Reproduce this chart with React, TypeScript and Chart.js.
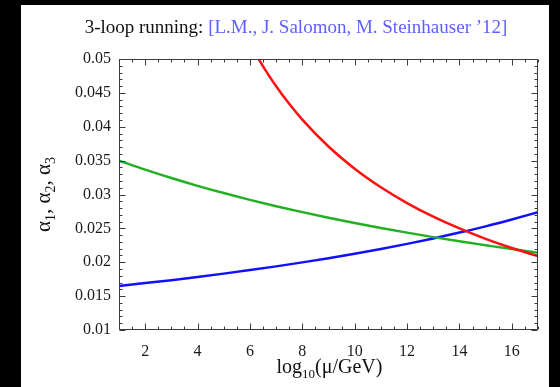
import React, { useEffect, useRef } from "react";
import { Chart, registerables } from "chart.js";

Chart.register(...registerables);

// log10(mu/GeV) sample points
const T = [1, 2, 3, 4, 5, 6, 7, 8, 9, 10, 11, 12, 13, 14, 15, 16, 17];
// alpha_1 (blue)
const ALPHA1 = [0.0165, 0.01692, 0.01736, 0.01783, 0.01832, 0.01884, 0.01939, 0.01998, 0.0206, 0.02125, 0.02196, 0.02271, 0.02351, 0.02438, 0.0253, 0.02631, 0.02739];
// alpha_2 (green)
const ALPHA2 = [0.035, 0.03367, 0.03243, 0.03128, 0.03021, 0.02921, 0.02827, 0.0274, 0.02657, 0.02579, 0.02506, 0.02437, 0.02371, 0.02309, 0.02251, 0.02194, 0.02141];
// alpha_3 (red)
const T3 = [6.33, 6.5, 7, 7.5, 8, 9, 10, 11, 12, 13, 14, 15, 16, 17];
const ALPHA3 = [0.05, 0.04892, 0.04598, 0.04338, 0.04105, 0.03708, 0.03381, 0.03107, 0.02874, 0.02673, 0.02499, 0.02346, 0.0221, 0.0209];

const X_TICKS = [2, 4, 6, 8, 10, 12, 14, 16];
const Y_TICKS = [0.01, 0.015, 0.02, 0.025, 0.03, 0.035, 0.04, 0.045, 0.05];
const Y_TICK_LABELS = ["0.01", "0.015", "0.02", "0.025", "0.03", "0.035", "0.04", "0.045", "0.05"];

const TITLE_BLACK = "3-loop running: ";
const TITLE_BLUE = "[L.M., J. Salomon, M. Steinhauser \u201912]";

const SERIF = '"Liberation Serif", "DejaVu Serif", serif';

const decorPlugin = {
  id: "decor",
  beforeDraw(chart: any) {
    const ctx = chart.ctx;
    const W = chart.width, H = chart.height;
    ctx.save();
    ctx.fillStyle = "#ffffff";
    ctx.fillRect(0, 0, W, H);
    ctx.fillStyle = "#000000";
    ctx.fillRect(0, 0, 21, H);
    ctx.fillRect(0, 0, W, 5);
    ctx.fillRect(549, 0, W - 549, H);
    ctx.restore();
  },
  afterDraw(chart: any) {
    const ctx = chart.ctx;
    const { left, right, top, bottom } = chart.chartArea;
    const xs = chart.scales.x, ys = chart.scales.y;
    ctx.save();
    ctx.strokeStyle = "#3a3a3a";
    ctx.lineWidth = 1;
    ctx.beginPath();
    const L = Math.round(left) + 0.5, R = Math.round(right) - 0.5;
    const Tp = Math.round(top) + 0.5, B = Math.round(bottom) - 0.5;
    ctx.rect(L, Tp, R - L, B - Tp);
    // x ticks every 0.5
    for (let i = 2; i <= 34; i++) {
      const v = i / 2;
      const px = Math.round(xs.getPixelForValue(v)) + 0.5;
      const len = i % 4 === 0 ? 6 : 3;
      ctx.moveTo(px, B); ctx.lineTo(px, B - len);
      ctx.moveTo(px, Tp); ctx.lineTo(px, Tp + len);
    }
    // y ticks every 0.001
    for (let i = 10; i <= 50; i++) {
      const v = i / 1000;
      const py = Math.round(ys.getPixelForValue(v)) + 0.5;
      const len = i % 5 === 0 ? 6 : 3;
      ctx.moveTo(L, py); ctx.lineTo(L + len, py);
      ctx.moveTo(R, py); ctx.lineTo(R - len, py);
    }
    ctx.stroke();

    // Title
    ctx.textBaseline = "alphabetic";
    ctx.textAlign = "left";
    ctx.font = "19px " + SERIF;
    const w1 = ctx.measureText(TITLE_BLACK).width;
    const w2 = ctx.measureText(TITLE_BLUE).width;
    const x0 = 296 - (w1 + w2) / 2;
    ctx.fillStyle = "#111111";
    ctx.fillText(TITLE_BLACK, x0, 33);
    ctx.fillStyle = "#6060ff";
    ctx.fillText(TITLE_BLUE, x0 + w1, 33);

    const drawSegs = (segs: any[], cx: number, baseline: number, bigSize: number, smallSize: number, subDrop: number) => {
      let total = 0;
      for (const sg of segs) {
        ctx.font = (sg.s ? smallSize : bigSize) + "px " + SERIF;
        total += ctx.measureText(sg.t).width;
      }
      let x = cx - total / 2;
      for (const sg of segs) {
        ctx.font = (sg.s ? smallSize : bigSize) + "px " + SERIF;
        ctx.fillText(sg.t, x, baseline + (sg.s ? subDrop : 0));
        x += ctx.measureText(sg.t).width;
      }
    };

    // x axis title: log10(mu/GeV)
    const segsX = [
      { t: "log", s: false },
      { t: "10", s: true },
      { t: "(\u03bc/GeV)", s: false },
    ];
    ctx.fillStyle = "#111111";
    drawSegs(segsX, (left + right) / 2 + 1, 373, 20, 13, 5);

    // y axis title: alpha1, alpha2, alpha3
    const segsY = [
      { t: "\u03b1", s: false }, { t: "1", s: true }, { t: ", ", s: false },
      { t: "\u03b1", s: false }, { t: "2", s: true }, { t: ", ", s: false },
      { t: "\u03b1", s: false }, { t: "3", s: true },
    ];
    ctx.save();
    ctx.translate(50, (top + bottom) / 2);
    ctx.rotate(-Math.PI / 2);
    drawSegs(segsY, 0, 0, 21, 14, 5);
    ctx.restore();
    ctx.restore();
  },
};

export default function App() {
  const ref = useRef<HTMLCanvasElement | null>(null);
  useEffect(() => {
    document.body.style.margin = "0";
    const canvas = ref.current!;
    const chart = new Chart(canvas, {
      type: "line",
      data: {
        datasets: [
          {
            label: "alpha3",
            data: T3.map((t, i) => ({ x: t, y: ALPHA3[i] })),
            borderColor: "#ff1010",
            borderWidth: 2.5,
            pointRadius: 0,
            cubicInterpolationMode: "monotone",
          },
          {
            label: "alpha2",
            data: T.map((t, i) => ({ x: t, y: ALPHA2[i] })),
            borderColor: "#22b022",
            borderWidth: 2.5,
            pointRadius: 0,
            cubicInterpolationMode: "monotone",
          },
          {
            label: "alpha1",
            data: T.map((t, i) => ({ x: t, y: ALPHA1[i] })),
            borderColor: "#1010ff",
            borderWidth: 2.5,
            pointRadius: 0,
            cubicInterpolationMode: "monotone",
          },
        ],
      },
      options: {
        responsive: false,
        animation: false,
        devicePixelRatio: 1,
        layout: { padding: { left: 21, right: 22, top: 59, bottom: 0 } },
        plugins: { legend: { display: false }, tooltip: { enabled: false }, title: { display: false } },
        scales: {
          x: {
            type: "linear",
            min: 1,
            max: 17,
            grid: { display: false },
            border: { display: false },
            afterBuildTicks: (s: any) => { s.ticks = X_TICKS.map((v) => ({ value: v })); },
            afterFit: (s: any) => { s.height = 57; },
            ticks: {
              color: "#1a1a1a",
              font: { family: SERIF, size: 16 },
              padding: 4,
              maxRotation: 0,
              autoSkip: false,
            },
          },
          y: {
            type: "linear",
            min: 0.01,
            max: 0.05,
            grid: { display: false },
            border: { display: false },
            afterBuildTicks: (s: any) => { s.ticks = Y_TICKS.map((v) => ({ value: v })); },
            afterFit: (s: any) => { s.width = 98; },
            ticks: {
              color: "#1a1a1a",
              font: { family: SERIF, size: 16 },
              padding: 0,
              autoSkip: false,
              callback: (v: any) => {
                const idx = Y_TICKS.findIndex((t) => Math.abs(t - v) < 1e-9);
                return idx >= 0 ? Y_TICK_LABELS[idx] : "";
              },
            },
          },
        },
      },
      plugins: [decorPlugin],
    } as any);
    return () => chart.destroy();
  }, []);
  return (
    <div style={{ width: 560, height: 387 }}>
      <canvas ref={ref} width={560} height={387} style={{ display: "block", width: 560, height: 387 }} />
    </div>
  );
}
